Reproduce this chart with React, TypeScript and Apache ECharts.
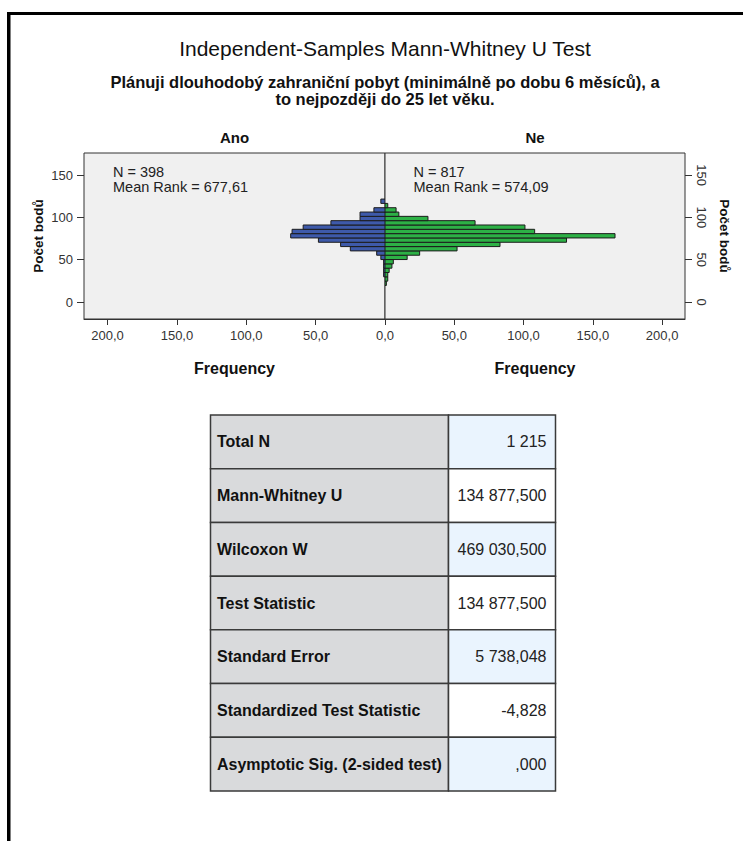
import React, { useEffect, useRef } from "react";
import * as echarts from "echarts";

const chartTitle = "Independent-Samples Mann-Whitney U Test";
const chartSubtitle = "Plánuji dlouhodobý zahraniční pobyt (minimálně po dobu 6 měsíců), a\nto nejpozději do 25 let věku.";
const groupNames = ["Ano", "Ne"];
const groupN = [398, 817];
const groupMeanRank = ["677,61", "574,09"];
const yAxisName = "Počet bodů";
const xAxisName = "Frequency";

// histogram bin edges of "Počet bodů" (bottom to top)
const binEdges = [19.6, 24.7, 29.8, 34.9, 40.0, 45.1, 50.2, 55.3, 60.4, 65.5, 70.6, 75.7, 80.8, 85.9, 91.0, 96.1, 101.2, 106.3, 111.4, 116.5, 121.6];
const anoCounts = [0, 0, 1, 1, 1, 1, 3, 6, 25, 32, 48, 68, 67, 59, 39, 18, 18, 8, 0, 3];
const neCounts = [1, 2, 2, 3, 5, 6, 16, 25, 52, 83, 131, 166, 108, 101, 65, 31, 10, 8, 2, 0];

const freqTicks = [0, 50, 100, 150, 200];
const freqLabelsRight = [50, 100, 150, 200];
const scoreTicks = [0, 50, 100, 150];

const tableLabels = [
  "Total N",
  "Mann-Whitney U",
  "Wilcoxon W",
  "Test Statistic",
  "Standard Error",
  "Standardized Test Statistic",
  "Asymptotic Sig. (2-sided test)",
];
const tableValues = ["1 215", "134 877,500", "469 030,500", "134 877,500", "5 738,048", "-4,828", ",000"];

const FONT = "Arial, 'Liberation Sans', Helvetica, sans-serif";

function binData(counts: number[]) {
  return counts.map((c, i) => [binEdges[i], binEdges[i + 1], c]);
}

function makeRender(color: string) {
  return (params: any, api: any) => {
    const lo = api.value(0);
    const hi = api.value(1);
    const v = api.value(2);
    if (!v) return { type: "group", children: [] };
    const p0 = api.coord([0, lo]);
    const p1 = api.coord([v, hi]);
    return {
      type: "rect",
      shape: {
        x: Math.min(p0[0], p1[0]),
        y: Math.min(p0[1], p1[1]),
        width: Math.abs(p1[0] - p0[0]),
        height: Math.abs(p1[1] - p0[1]),
      },
      style: { fill: color, stroke: "#1c1c1c", lineWidth: 1 },
    };
  };
}

const fmtFreq = (v: number) => v.toFixed(1).replace(".", ",");

export default function App() {
  const ref = useRef<HTMLDivElement>(null);
  useEffect(() => {
    if (!ref.current) return;
    const chart = echarts.init(ref.current, null, { renderer: "svg" });

    const tableTop = 415;
    const rowH = (791 - 415) / 7;
    const tLeft = 210.5;
    const tMid = 448.5;
    const tRight = 555.5;
    const tableEls: any[] = [];
    tableLabels.forEach((lab, i) => {
      const y = tableTop + i * rowH;
      tableEls.push({
        type: "rect",
        shape: { x: tLeft, y, width: tMid - tLeft, height: rowH },
        style: { fill: "#D9DADC", stroke: "#3a3a3a", lineWidth: 1.5 },
      });
      tableEls.push({
        type: "rect",
        shape: { x: tMid, y, width: tRight - tMid, height: rowH },
        style: { fill: i % 2 === 0 ? "#EAF4FE" : "#FFFFFF", stroke: "#3a3a3a", lineWidth: 1.5 },
      });
      tableEls.push({
        type: "text",
        x: 217,
        y: y + rowH / 2,
        style: { text: lab, fontFamily: FONT, fontSize: 16, fontWeight: "bold", fill: "#111", align: "left", verticalAlign: "middle" },
      });
      tableEls.push({
        type: "text",
        x: 546.5,
        y: y + rowH / 2,
        style: { text: tableValues[i], fontFamily: FONT, fontSize: 16, fill: "#222", align: "right", verticalAlign: "middle" },
      });
    });

    const axisLineStyle = { color: "#333", width: 1 };
    const labelStyle = { fontFamily: FONT, fontSize: 13, color: "#333" };

    chart.setOption({
      animation: false,
      backgroundColor: "#ffffff",
      grid: [
        { left: 84, top: 153, width: 301, height: 166, show: true, backgroundColor: "#F0F0F0", borderColor: "#333", borderWidth: 1 },
        { left: 385, top: 153, width: 300, height: 166, show: true, backgroundColor: "#F0F0F0", borderColor: "#333", borderWidth: 1 },
      ],
      xAxis: [
        {
          gridIndex: 0, type: "value", min: 0, max: 217, inverse: true, position: "bottom",
          axisLine: { show: true, onZero: false, lineStyle: axisLineStyle },
          axisTick: { show: true, length: 6, customValues: freqTicks, lineStyle: axisLineStyle },
          axisLabel: { ...labelStyle, customValues: freqTicks, formatter: fmtFreq, margin: 10 },
          splitLine: { show: false },
          name: xAxisName, nameLocation: "middle", nameGap: 41,
          nameTextStyle: { fontFamily: FONT, fontSize: 16, fontWeight: "bold", color: "#111" },
        },
        {
          gridIndex: 1, type: "value", min: 0, max: 216.5, position: "bottom",
          axisLine: { show: true, onZero: false, lineStyle: axisLineStyle },
          axisTick: { show: true, length: 6, customValues: freqTicks, lineStyle: axisLineStyle },
          axisLabel: { ...labelStyle, customValues: freqLabelsRight, formatter: fmtFreq, margin: 10 },
          splitLine: { show: false },
          name: xAxisName, nameLocation: "middle", nameGap: 41,
          nameTextStyle: { fontFamily: FONT, fontSize: 16, fontWeight: "bold", color: "#111" },
        },
      ],
      yAxis: [
        {
          gridIndex: 0, type: "value", min: -20, max: 176, position: "left",
          axisLine: { show: false, onZero: false },
          axisTick: { show: true, length: 7, customValues: scoreTicks, lineStyle: axisLineStyle },
          axisLabel: { ...labelStyle, customValues: scoreTicks, margin: 11 },
          splitLine: { show: false },
          name: yAxisName, nameLocation: "middle", nameRotate: 90, nameGap: 39,
          nameTextStyle: { fontFamily: FONT, fontSize: 13.5, fontWeight: "bold", color: "#111" },
        },
        {
          gridIndex: 1, type: "value", min: -20, max: 176, position: "right",
          axisLine: { show: false, onZero: false },
          axisTick: { show: true, length: 7, customValues: scoreTicks, lineStyle: axisLineStyle },
          axisLabel: { ...labelStyle, customValues: scoreTicks, margin: 10, rotate: -90 },
          splitLine: { show: false },
          name: yAxisName, nameLocation: "middle", nameRotate: -90, nameGap: 32,
          nameTextStyle: { fontFamily: FONT, fontSize: 13.5, fontWeight: "bold", color: "#111" },
        },
      ],
      series: [
        {
          type: "custom", name: groupNames[0], xAxisIndex: 0, yAxisIndex: 0,
          renderItem: makeRender("#3E5AAA"), encode: { x: 2, y: [0, 1] },
          data: binData(anoCounts), clip: true,
        },
        {
          type: "custom", name: groupNames[1], xAxisIndex: 1, yAxisIndex: 1,
          renderItem: makeRender("#2DB146"), encode: { x: 2, y: [0, 1] },
          data: binData(neCounts), clip: true,
        },
      ],
      graphic: [
        { type: "rect", shape: { x: 7, y: 12, width: 3.5, height: 829 }, style: { fill: "#000" } },
        { type: "rect", shape: { x: 7, y: 12, width: 736, height: 3 }, style: { fill: "#000" } },
        {
          type: "text", x: 385, y: 48,
          style: { text: chartTitle, fontFamily: FONT, fontSize: 21, fill: "#111", align: "center", verticalAlign: "middle" },
        },
        {
          type: "text", x: 385, y: 90.5,
          style: { text: chartSubtitle, fontFamily: FONT, fontSize: 16.5, fontWeight: "bold", lineHeight: 16.5, fill: "#111", align: "center", verticalAlign: "middle" },
        },
        {
          type: "text", x: 234.5, y: 137,
          style: { text: groupNames[0], fontFamily: FONT, fontSize: 15, fontWeight: "bold", fill: "#111", align: "center", verticalAlign: "middle" },
        },
        {
          type: "text", x: 535, y: 137,
          style: { text: groupNames[1], fontFamily: FONT, fontSize: 15, fontWeight: "bold", fill: "#111", align: "center", verticalAlign: "middle" },
        },
        {
          type: "text", x: 113, y: 179.5,
          style: { text: `N = ${groupN[0]}\nMean Rank = ${groupMeanRank[0]}`, fontFamily: FONT, fontSize: 14.5, lineHeight: 15.5, fill: "#222", align: "left", verticalAlign: "middle" },
        },
        {
          type: "text", x: 413.5, y: 179.5,
          style: { text: `N = ${groupN[1]}\nMean Rank = ${groupMeanRank[1]}`, fontFamily: FONT, fontSize: 14.5, lineHeight: 15.5, fill: "#222", align: "left", verticalAlign: "middle" },
        },
        ...tableEls,
      ],
    });
    return () => chart.dispose();
  }, []);
  return (
    <div
      ref={ref}
      style={{ position: "absolute", left: 0, top: 0, width: 743, height: 841, background: "#fff" }}
    />
  );
}
